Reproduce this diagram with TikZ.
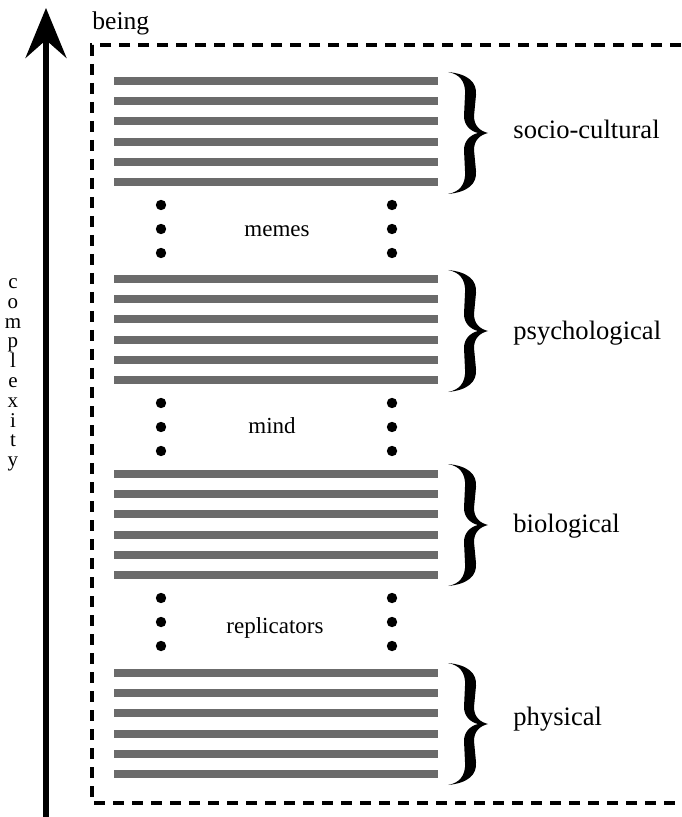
\documentclass[tikz,border=0pt]{standalone}
\usepackage{fontspec}
\setmainfont{Liberation Serif}
\usepackage{tikz}
\usetikzlibrary{arrows.meta}
\definecolor{bargray}{HTML}{6B6B6B}

\begin{document}
\begin{tikzpicture}[x=0.5pt, y=-0.5pt,
    bar/.style={bargray, line width=4pt},
    dot/.style={fill=black},
    level/.style={inner sep=0pt, anchor=base west, font=\fontsize{13.3}{16}\selectfont},
    link/.style={inner sep=0pt, anchor=base, font=\fontsize{11.5}{14}\selectfont}]
    \useasboundingbox (0,0) rectangle (681,817);
    % complexity axis
    \coordinate (axisbot) at (46,817);
    \coordinate (axistop) at (46,8);
    \draw[line width=2.8pt, -{Stealth[length=25pt, width=20.5pt, inset=9pt]}] (axisbot) -- (axistop);
    \node[align=center, inner sep=0pt, font=\fontsize{10.5}{9.9}\selectfont] (complexity) at (13,375) {c\\o\\m\\p\\l\\e\\x\\i\\t\\y};
    % being
    \draw[line width=2pt, dash pattern=on 5.5pt off 4pt] (700,45) -- (92,45) -- (92,803) -- (700,803);
    \node[inner sep=0pt, anchor=base west, font=\fontsize{12.8}{15}\selectfont] (being) at (92,30) {being};
    % levels
    \foreach \g in {81,279,474,673} {
        \foreach \i in {0,...,5}
            \draw[bar] (114,\g+20.2*\i) -- (438,\g+20.2*\i);
    }
    \foreach \l in {182,380,575} {
        \foreach \d in {23,47,71} {
            \fill[dot] (161,\l+\d) circle[radius=2.6pt];
            \fill[dot] (392,\l+\d) circle[radius=2.6pt];
        }
    }
    % braces
    \foreach \c in {133,331,525,724} {
        \fill[shift={(448,\c)}] (0,-61) .. controls (20,-59) and (29,-51) .. (28,-38)
            -- (26,-17) .. controls (26,-7) and (32,-2) .. (40,0)
            .. controls (32,2) and (26,7) .. (26,17) -- (28,38)
            .. controls (29,51) and (20,59) .. (0,61)
            .. controls (11,59) and (18,52) .. (17,38) -- (16,17)
            .. controls (16,8) and (22,2) .. (30,0)
            .. controls (22,-2) and (16,-8) .. (16,-17) -- (17,-38)
            .. controls (18,-52) and (11,-59) .. (0,-61) -- cycle;
    }
    \node[level] (socio) at (513,139) {socio-cultural};
    \node[level] (psych) at (513,340) {psychological};
    \node[level] (bio) at (513,532) {biological};
    \node[level] (phys) at (513,725) {physical};
    \node[link] (memes) at (277,237) {memes};
    \node[link] (mind) at (272,433) {mind};
    \node[link] (replicators) at (275,633) {replicators};
\end{tikzpicture}
\end{document}
